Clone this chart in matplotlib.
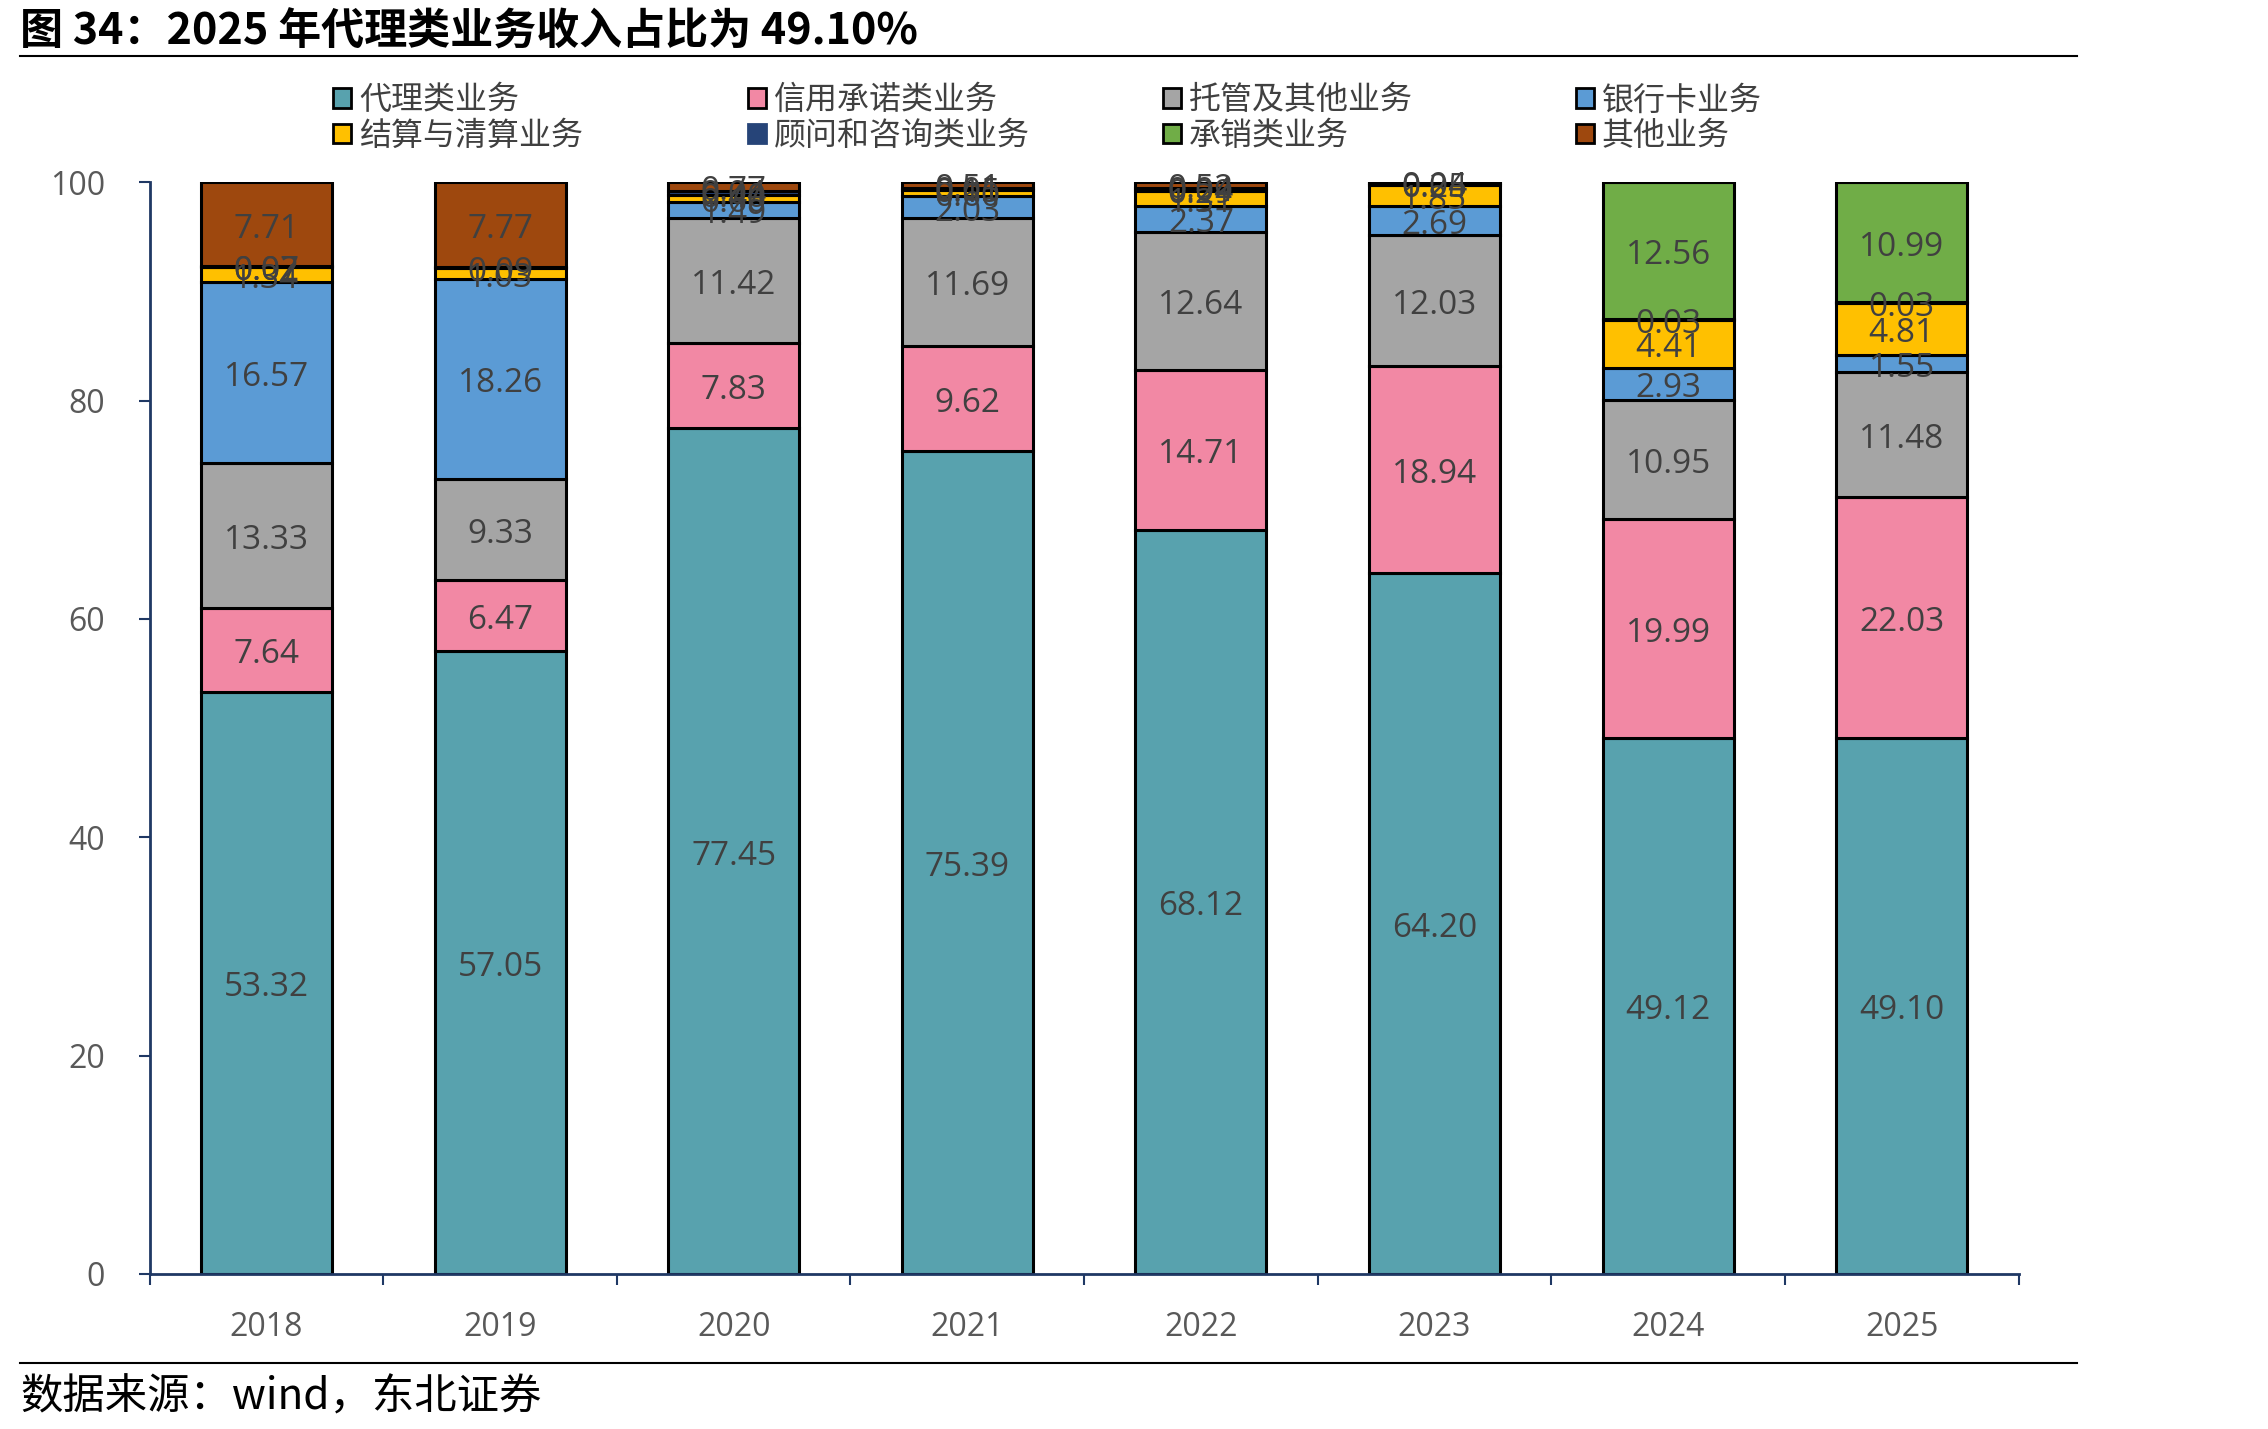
import matplotlib
matplotlib.use("Agg")
import matplotlib.pyplot as plt
import matplotlib.patches as mpatches
import numpy as np

plt.rcParams['font.family'] = ['Noto Sans CJK SC', 'DejaVu Sans']

# ---- data (percent of fee income) ----
years = ['2018', '2019', '2020', '2021', '2022', '2023', '2024', '2025']
series_names = ['代理类业务', '信用承诺类业务', '托管及其他业务', '银行卡业务',
                '结算与清算业务', '顾问和咨询类业务', '承销类业务', '其他业务']
agency      = [53.32, 57.05, 77.45, 75.39, 68.12, 64.20, 49.12, 49.10]
credit      = [7.64, 6.47, 7.83, 9.62, 14.71, 18.94, 19.99, 22.03]
custody     = [13.33, 9.33, 11.42, 11.69, 12.64, 12.03, 10.95, 11.48]
bank_card   = [16.57, 18.26, 1.49, 2.03, 2.37, 2.69, 2.93, 1.55]
settlement  = [1.34, 1.03, 0.60, 0.60, 1.31, 1.85, 4.41, 4.81]
advisory    = [0.07, 0.09, 0.40, 0.15, 0.29, 0.25, 0.03, 0.03]
underwrite  = [0.02, 0.00, 0.04, 0.01, 0.04, 0.04, 12.56, 10.99]
other       = [7.71, 7.77, 0.77, 0.51, 0.52, 0.00, 0.00, 0.00]

colors = ['#58A2AE', '#F288A4', '#A5A5A5', '#5B9BD5',
          '#FFC000', '#264478', '#70AD47', '#9E480E']

data = [agency, credit, custody, bank_card, settlement, advisory, underwrite, other]

fig = plt.figure(figsize=(22.68, 14.29), dpi=100)
ax = fig.add_axes([0.066, 0.1085, 0.824, 0.764])

x = np.arange(len(years))
bottom = np.zeros(len(years))
handles = []
for vals, name, c in zip(data, series_names, colors):
    vals = np.array(vals)
    ax.bar(x, vals, width=0.56, bottom=bottom, color=c,
           edgecolor='black', linewidth=2.2, label=name, zorder=2)
    # every segment gets its value, small ones overlap as in the source chart
    for xi, v, b in zip(x, vals, bottom):
        if v > 0:
            ax.annotate(f'{v:.2f}', (xi, b + v / 2), xytext=(0, -3.5),
                        textcoords='offset points', ha='center', va='center',
                        fontsize=24, color='#404040',
                        family=['Open Sans', 'DejaVu Sans'], zorder=3)
    bottom += vals
    handles.append(mpatches.Patch(facecolor=c, edgecolor='black' if c != '#264478' else c,
                                  linewidth=2))

ax.set_xlim(-0.5, 7.5)
ax.set_ylim(0, 100)
ax.set_yticks([0, 20, 40, 60, 80, 100])
ax.set_xticks(x)
ax.set_xticklabels(years)
ax.set_xticks(np.arange(-0.5, 8, 1), minor=True)
ax.tick_params(axis='x', which='major', length=0, pad=27)
ax.tick_params(axis='x', which='minor', length=8, width=1.5, color='#1F3864', direction='out')
ax.tick_params(axis='y', length=8, width=1.5, color='#1F3864', pad=24)
for lab in ax.get_xticklabels() + ax.get_yticklabels():
    lab.set_fontsize(23)
    lab.set_color('#595959')
    lab.set_family(['Open Sans', 'DejaVu Sans'])
for s in ['top', 'right']:
    ax.spines[s].set_visible(False)
for s in ['left', 'bottom']:
    ax.spines[s].set_color('#1F3864')
    ax.spines[s].set_linewidth(2)

# legend: 4 evenly spaced columns, two rows
col_x = [0.147, 0.330, 0.513, 0.695]
for k, cx in enumerate(col_x):
    idx = [k, k + 4]
    fig.legend([handles[i] for i in idx], [series_names[i] for i in idx],
               loc='upper left', bbox_to_anchor=(cx, 0.941),
               frameon=False, fontsize=23, handlelength=0.55, handleheight=0.55,
               handletextpad=0.25, labelspacing=0.12, borderaxespad=0,
               borderpad=0, labelcolor='#404040')

# title, rules and source
fig.text(0.009, 0.993, '图 34：2025 年代理类业务收入占比为 49.10%', fontsize=31,
         fontweight='bold', ha='left', va='top', color='black')
fig.add_artist(plt.Line2D([0.009, 0.916], [0.961, 0.961], color='black', linewidth=1.5))
fig.add_artist(plt.Line2D([0.009, 0.916], [0.046, 0.046], color='black', linewidth=1.5))
fig.text(0.009, 0.022, '数据来源：wind，东北证券', fontsize=30.5, ha='left', va='center',
         color='black')

fig.savefig('out.png', dpi=100)
